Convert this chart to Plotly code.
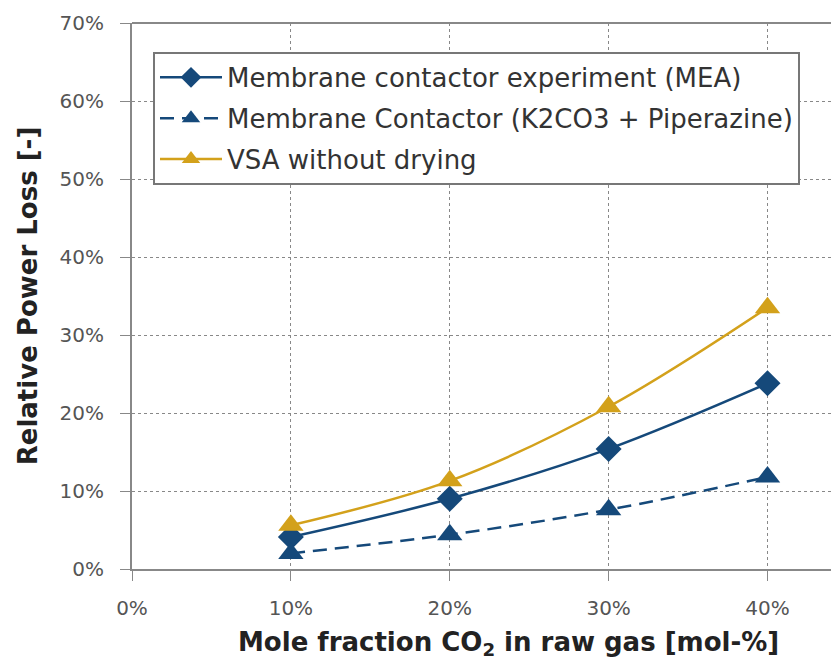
import plotly.graph_objects as go

x_vals = [0.10, 0.20, 0.30, 0.40]
mea = [0.041, 0.090, 0.154, 0.238]
k2co3 = [0.020, 0.044, 0.076, 0.118]
vsa = [0.056, 0.113, 0.208, 0.335]

names = ["Membrane contactor experiment (MEA)",
         "Membrane Contactor (K2CO3 + Piperazine)",
         "VSA without drying"]
x_title = "<b>Mole fraction CO<sub>2</sub> in raw gas [mol-%]</b>"
y_title = "<b>Relative Power Loss [-]</b>"

blue = "#15497a"
gold = "#d3a11b"

fig = go.Figure()
fig.add_trace(go.Scatter(x=x_vals, y=mea, name=names[0], mode="lines+markers", legendgroup="a",
                         line=dict(color=blue, width=2.5, shape="spline"),
                         marker=dict(symbol="diamond", size=20, color=blue)))
fig.add_trace(go.Scatter(x=x_vals, y=k2co3, name=names[1], mode="lines+markers", legendgroup="b",
                         line=dict(color=blue, width=2.5, dash="14px,8px", shape="spline"),
                         marker=dict(symbol="triangle-up", size=22, color=blue)))
fig.add_trace(go.Scatter(x=x_vals, y=vsa, name=names[2], mode="lines+markers", legendgroup="c",
                         line=dict(color=gold, width=2.5, shape="spline"),
                         marker=dict(symbol="triangle-up", size=22, color=gold)))

fig.update_layout(
    width=839, height=663,
    margin=dict(l=124, r=8, t=15, b=102),
    paper_bgcolor="white", plot_bgcolor="white",
    font=dict(family="DejaVu Sans, Arial, sans-serif", color="#555555", size=20),
    legend=dict(x=0.0297, y=0.947, xanchor="left", yanchor="top",
                bordercolor="#777777", borderwidth=2, bgcolor="white",
                font=dict(size=26, color="#333333"), tracegroupgap=4,
                itemwidth=62),
    showlegend=True,
)
fig.update_xaxes(range=[0, 0.445], tickvals=[0, 0.1, 0.2, 0.3, 0.4], tickformat=".0%",
                 automargin=False, ticklabelstandoff=10,
                 showgrid=True, gridcolor="#888888", griddash="dot", gridwidth=1,
                 showline=True, linecolor="#888888", linewidth=2, mirror=False,
                 ticks="outside", ticklen=10, tickcolor="#888888",
                 zeroline=False)
fig.update_yaxes(range=[0, 0.70], dtick=0.10, tickformat=".0%",
                 automargin=False, ticklabelstandoff=12,
                 showgrid=True, gridcolor="#888888", griddash="dot", gridwidth=1,
                 showline=True, linecolor="#888888", linewidth=2,
                 ticks="outside", ticklen=10, tickcolor="#888888",
                 zeroline=False,
                 title=dict(text=y_title, font=dict(size=26, color="#222222"), standoff=14))
fig.add_annotation(text=x_title, xref="paper", yref="paper", x=0.532, y=-0.137,
                   xanchor="center", yanchor="middle", showarrow=False,
                   font=dict(size=26, color="#222222"))
# top border line
fig.add_shape(type="line", xref="paper", yref="paper", x0=0, x1=1, y0=1, y1=1,
              line=dict(color="#888888", width=2))

fig.write_html("out.html")
